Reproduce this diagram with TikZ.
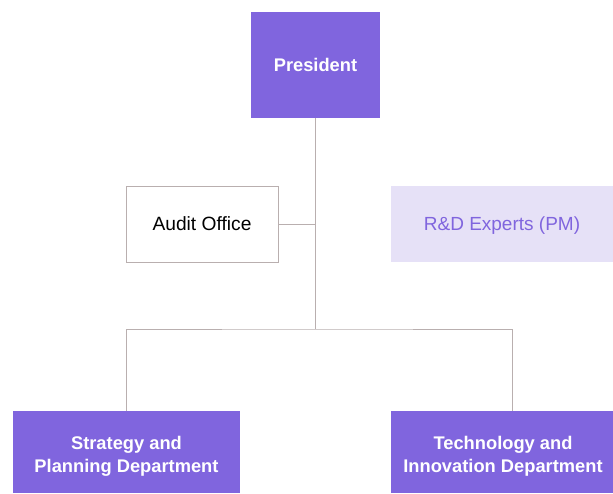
\documentclass[tikz,border=0pt]{standalone}
\usepackage{fontspec}
\setmainfont{Liberation Sans}
\definecolor{boxpurple}{HTML}{8065DE}
\definecolor{lightpurple}{HTML}{E6E1F7}
\definecolor{linegrey}{HTML}{B9AFAF}
\begin{document}
\begin{tikzpicture}[x=1pt,y=-1pt,
  mainbox/.style={fill=boxpurple,text=white,font=\fontsize{18.3}{22}\selectfont\bfseries,align=center,inner sep=0pt,anchor=center},
  whitelabel/.style={text=white,font=\fontsize{18.3}{22.5}\selectfont\bfseries,align=center,inner sep=0pt},
  audbox/.style={draw=linegrey,line width=0.9pt,fill=white,text=black,font=\fontsize{19.2}{22}\selectfont,inner sep=0pt},
  rdbox/.style={fill=lightpurple,inner sep=0pt},
  rdlabel/.style={text=boxpurple,font=\fontsize{19}{22}\selectfont,inner sep=0pt},
  conn/.style={draw=linegrey,line width=0.9pt}]
\useasboundingbox (0,0) rectangle (613,493);
\node[mainbox,minimum width=129pt,minimum height=106pt] (pres) at (315.5,65) {President};
\node[audbox,minimum width=152pt,minimum height=76pt] (audit) at (202,224) {Audit Office};
\node[rdbox,minimum width=222pt,minimum height=76pt] (rd) at (502,224) {};
\node[rdlabel] (rdtext) at (502,226) {R\&D Experts (PM)};
\node[mainbox,minimum width=227pt,minimum height=82pt] (strat) at (126.5,452) {};
\node[whitelabel] (strattext) at (126.5,456.5) {Strategy and\\Planning Department};
\node[mainbox,minimum width=222pt,minimum height=82pt] (tech) at (502,452) {};
\node[whitelabel] (techtext) at (503,456.5) {Technology and\\Innovation Department};
\coordinate (j) at (315.5,329);
\coordinate (ja) at (315.5,224);
\coordinate (tb) at (512,411);
\coordinate (sb) at (126,411);
\draw[conn] (pres.south) -- (j);
\draw[conn] (audit.east) -- (ja);
\draw[conn] (sb) |- (j) -| (tb);
\end{tikzpicture}
\end{document}
